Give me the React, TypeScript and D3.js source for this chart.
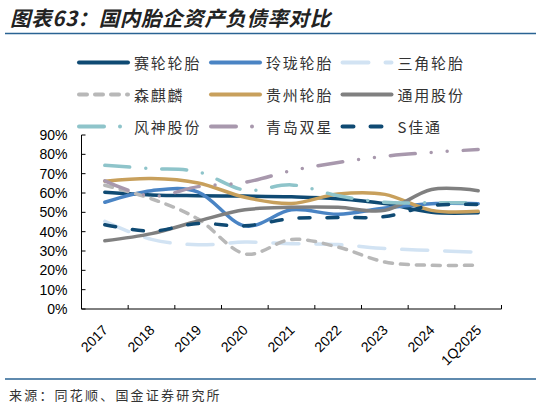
import React from "react";
import * as d3 from "d3";

// categories / tick labels
const years = ["2017", "2018", "2019", "2020", "2021", "2022", "2023", "2024", "1Q2025"];
const yTicks = [0, 10, 20, 30, 40, 50, 60, 70, 80, 90];

// debt ratio (%)
const sailun = [60.4, 59.0, 58.6, 58.4, 58.0, 57.0, 54.5, 50.0, 49.8];
const linglong = [55.2, 61.2, 60.5, 43.0, 51.3, 49.0, 52.3, 54.5, 54.5];
const sanjiao = [45.3, 36.0, 33.2, 34.6, 33.8, 33.3, 31.3, 30.3, 29.4];
const senqilin = [64.0, 57.0, 46.5, 28.5, 36.0, 32.0, 24.3, 22.6, 22.7];
const guizhou = [66.1, 67.5, 65.2, 57.8, 54.6, 59.5, 59.3, 51.0, 50.5];
const tongyong = [35.3, 39.0, 45.5, 51.3, 52.6, 52.6, 51.0, 61.8, 61.2];
const fengshen = [74.3, 72.6, 71.0, 61.5, 64.2, 58.6, 55.2, 55.0, 55.0];
const shuangxing = [66.3, 58.4, 63.3, 65.5, 71.5, 75.8, 79.0, 81.0, 82.5];
const jiatong = [43.6, 40.3, 44.2, 43.0, 46.8, 47.3, 47.8, 53.5, 54.0];

const series = [
  { name: "赛轮轮胎", values: sailun, color: "#0f4a73", dash: "" },
  { name: "玲珑轮胎", values: linglong, color: "#4a84c4", dash: "" },
  { name: "三角轮胎", values: sanjiao, color: "#d2e3f3", dash: "26 17" },
  { name: "森麒麟", values: senqilin, color: "#b8b8b8", dash: "8 8" },
  { name: "贵州轮胎", values: guizhou, color: "#c8a05c", dash: "" },
  { name: "通用股份", values: tongyong, color: "#808080", dash: "" },
  { name: "风神股份", values: fengshen, color: "#8ec4ca", dash: "25 16 0 16" },
  { name: "青岛双星", values: shuangxing, color: "#a898ad", dash: "25 16 0 16 0 16" },
  { name: "S佳通", values: jiatong, color: "#0f4a73", dash: "11 17" },
];

const width = 541,
  height = 403,
  margin = { top: 135, right: 40, bottom: 94, left: 81.5 };

const App: React.FC = () => {
  const x = d3
    .scaleBand()
    .domain(years)
    .range([margin.left, 501.5]);

  const y = d3
    .scaleLinear()
    .domain([0, 90])
    .range([height - margin.bottom, margin.top]);

  const line = d3
    .line<number>()
    .x((d, i) => x(years[i])! + x.bandwidth() / 2)
    .y((d) => y(d))
    .curve(d3.curveCardinal.tension(0));

  const legendCols = [77, 209, 340.5];
  const legendRows = [62.5, 94.5, 126.5];

  return (
    <svg
      width={width}
      height={height}
      style={{ position: "absolute", left: 0, top: 0, background: "#fff" }}
    >
      {/* title */}
      <text
        x={10}
        y={26}
        fontFamily="'Noto Sans CJK SC'"
        fontSize={20.5}
        fontStyle="italic"
        fontWeight="bold"
        letterSpacing={0.6}
        fill="#222"
      >
        图表63：国内胎企资产负债率对比
      </text>
      <line x1={5} x2={536} y1={33.5} y2={33.5} stroke="#2a6393" strokeWidth={1.5} />

      {/* legend */}
      {series.map((s, i) => {
        const cx = legendCols[i % 3];
        const cy = legendRows[Math.floor(i / 3)];
        return (
          <g key={s.name}>
            <line
              x1={cx + 2}
              x2={cx + 51}
              y1={cy}
              y2={cy}
              stroke={s.color}
              strokeWidth={4}
              strokeLinecap="round"
              strokeDasharray={s.dash || undefined}
            />
            <text
              x={cx + 57}
              y={cy}
              dominantBaseline="central"
              fontFamily="'Noto Sans CJK SC'"
              fontSize={15}
              letterSpacing={1.8}
              fill="#333"
            >
              {s.name}
            </text>
          </g>
        );
      })}

      {/* y axis */}
      <line x1={margin.left} x2={margin.left} y1={y(90)} y2={y(0)} stroke="#000" />
      {yTicks.map((t) => (
        <g key={t}>
          <line x1={margin.left} x2={margin.left + 4} y1={y(t)} y2={y(t)} stroke="#000" />
          <text
            x={67.5}
            y={y(t)}
            textAnchor="end"
            dominantBaseline="central"
            fontFamily="'Liberation Sans', Arial"
            fontSize={14}
            fill="#000"
          >
            {t}%
          </text>
        </g>
      ))}

      {/* x axis */}
      <line x1={margin.left} x2={501.5} y1={y(0)} y2={y(0)} stroke="#000" />
      {years.map((yr) => (
        <line
          key={yr}
          x1={x(yr)! + x.bandwidth()}
          x2={x(yr)! + x.bandwidth()}
          y1={y(0)}
          y2={y(0) - 4}
          stroke="#000"
        />
      ))}
      {years.map((yr) => {
        const cx = x(yr)! + x.bandwidth() / 2;
        return (
          <text
            key={yr}
            transform={`translate(${cx + 4},${y(0) + 22}) rotate(-45)`}
            textAnchor="end"
            fontFamily="'Liberation Sans', Arial"
            fontSize={14}
            fill="#000"
          >
            {yr}
          </text>
        );
      })}

      {/* lines */}
      {series.map((s) => (
        <path
          key={s.name}
          d={line(s.values) || ""}
          fill="none"
          stroke={s.color}
          strokeWidth={3.5}
          strokeLinecap="round"
          strokeLinejoin="round"
          strokeDasharray={s.dash || undefined}
        />
      ))}

      {/* source */}
      <line x1={5} x2={536} y1={379} y2={379} stroke="#2a6393" strokeWidth={1.5} />
      <text
        x={9}
        y={394}
        dominantBaseline="central"
        fontFamily="'Noto Sans CJK SC'"
        fontSize={13}
        letterSpacing={2.2}
        fill="#333"
      >
        来源：同花顺、国金证券研究所
      </text>
    </svg>
  );
};

export default App;
